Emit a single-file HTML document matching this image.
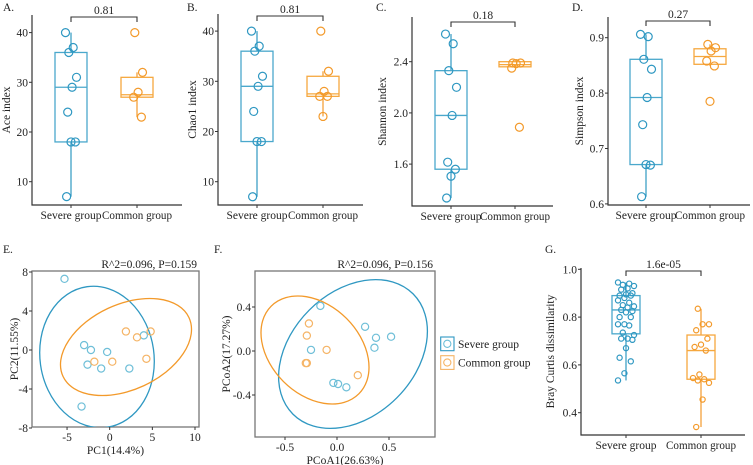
<!DOCTYPE html>
<html><head><meta charset="utf-8">
<style>
html,body{margin:0;padding:0;background:#fff;}
svg{display:block;font-family:"Liberation Serif",serif;}
</style></head>
<body>
<svg id="fig" width="753" height="465" viewBox="0 0 753 465" xmlns="http://www.w3.org/2000/svg"></svg>
<script>
// ---------- DATA ----------
const groups = ["Severe group", "Common group"];
// Panel A (Ace)
const aceSevere = [40, 37, 36, 31, 29, 24, 18, 18, 7];
const aceCommon = [40, 32, 28, 27, 23];
const aceStats = [[7, 18, 29, 36, 40], [23, 27, 27.5, 31, 32]];
const acePval = "0.81";
const aceTicks = [10, 20, 30, 40];
// Panel B (Chao1)
const chaoSevere = [40, 37, 36, 31, 29, 24, 18, 18, 7];
const chaoCommon = [40, 32, 28, 27, 27, 23];
const chaoStats = [[7, 18, 29, 36, 40], [23, 27, 27.5, 31, 32]];
const chaoPval = "0.81";
const chaoTicks = [10, 20, 30, 40];
// Panel C (Shannon)
const shanSevere = [2.616, 2.54, 2.33, 2.2, 1.98, 1.615, 1.56, 1.505, 1.335];
const shanCommon = [2.39, 2.39, 2.385, 2.35, 1.888];
const shanStats = [[1.335, 1.56, 1.98, 2.33, 2.616], [2.35, 2.36, 2.377, 2.40, 2.40]];
const shanPval = "0.18";
const shanTicks = [1.6, 2.0, 2.4];
// Panel D (Simpson)
const simpSevere = [0.906, 0.902, 0.861, 0.843, 0.792, 0.743, 0.67, 0.671, 0.613];
const simpCommon = [0.888, 0.882, 0.876, 0.858, 0.849, 0.785];
const simpStats = [[0.613, 0.671, 0.792, 0.861, 0.906], [0.849, 0.852, 0.866, 0.88, 0.888]];
const simpPval = "0.27";
const simpTicks = [0.6, 0.7, 0.8, 0.9];
// Panel G (Bray Curtis)
const braySevere = [0.945,0.94,0.935,0.93,0.92,0.915,0.9,0.895,0.89,0.89,0.88,0.87,0.86,0.85,0.845,0.84,0.83,0.825,0.82,0.80,0.80,0.77,0.77,0.765,0.735,0.725,0.71,0.71,0.705,0.67,0.63,0.615,0.565,0.535];
const brayCommon = [0.835,0.77,0.77,0.745,0.71,0.685,0.675,0.66,0.56,0.545,0.54,0.535,0.525,0.455,0.34];
const brayStats = [[0.535, 0.73, 0.83, 0.89, 0.945], [0.34, 0.54, 0.66, 0.725, 0.835]];
const brayPval = "1.6e-05";
const brayTicks = [0.4, 0.6, 0.8, 1.0];
// Panel E (PCA)
const pcaSevereX = [-5.3, -3, -2.2, -0.3, 4, -2.6, -1, 2.3, -3.3];
const pcaSevereY = [7.3, 0.5, 0, -0.2, 1.5, -1.5, -1.9, -1.9, -5.8];
const pcaCommonX = [1.9, 3.2, 4.8, -1.8, 0.3, 4.3];
const pcaCommonY = [1.9, 1.3, 1.9, -1.2, -1.2, -0.9];
const pcaXTicks = [-5, 0, 5, 10];
const pcaYTicks = [-8, -4, 0, 4, 8];
// Panel F (PCoA)
const pcoaSevereX = [0.27, 0.375, 0.36, 0.52, -0.16, -0.25, -0.035, 0.01, 0.09];
const pcoaSevereY = [0.22, 0.12, 0.03, 0.13, 0.41, 0.01, -0.29, -0.30, -0.33];
const pcoaCommonX = [-0.27, -0.29, -0.1, -0.29, -0.3, 0.2];
const pcoaCommonY = [0.25, 0.14, 0.01, -0.11, -0.11, -0.22];
const pcoaXTicks = [-0.5, 0.0, 0.5];
const pcoaYTicks = [-0.4, 0.0, 0.4];

// ---------- DRAWING ----------
const NS = "http://www.w3.org/2000/svg";
const svg = document.getElementById("fig");
const BLUE = "#2f98c2", ORANGE = "#f39a2b", BLUEL = "#6fbfd8", ORANGEL = "#f5b466", AX = "#333";
const FS = 11.5, GFS = 12;
const GLEN = [61, 70];
function mk(tag, attrs, parent) {
  const e = document.createElementNS(NS, tag);
  for (const k in attrs) e.setAttribute(k, attrs[k]);
  (parent || svg).appendChild(e);
  return e;
}
function txt(s, x, y, size, anchor, parent, rot) {
  const t = mk("text", {x: x, y: y, "font-size": size, "text-anchor": anchor || "start", fill: "#222"}, parent);
  if (rot) t.setAttribute("transform", "rotate(-90 " + x + " " + y + ")");
  t.textContent = s;
  return t;
}
function fmt(v, d) { return v.toFixed(d); }

function boxPanel(p) {
  const g = mk("g", {});
  
  
  const y = v => p.y0 - (v - p.v0) * p.k;
  const cx = [p.x0, p.x1];
  const ax = mk("path", {d: "M" + p.ax + " " + p.top + "V" + p.bot + "H" + p.right, stroke: AX, fill: "none", "stroke-width": 1.2}, g);
  
  
  p.ticks.forEach(t => {
    mk("line", {x1: p.ax - 3, x2: p.ax, y1: y(t), y2: y(t), stroke: AX}, g);
    const l = txt(fmt(t, p.dec), p.ax - 4, y(t) + 4, FS, "end", g);
    
    
  });
  groups.forEach((gn, i) => {
    mk("line", {x1: cx[i], x2: cx[i], y1: p.bot, y2: p.bot + 3, stroke: AX}, g);
    const l = txt(gn, cx[i], p.bot + 14, GFS, "middle", g);
    l.setAttribute("textLength", GLEN[i]);
    l.setAttribute("lengthAdjust", "spacingAndGlyphs");
    
    
  });
  const yl = txt(p.ylabel, p.ylx, (p.top + p.bot) / 2, FS, "middle", g, true);
  
  
  const pl = txt(p.letter, p.lx, p.ly, FS, "start", g);
  
  
  const cols = [BLUE, ORANGE], bcols = ["#4aa8cc", "#f6a83f"];
  p.stats.forEach((s, i) => {
    const bx = mk("g", {}, g);
    
    
    const hw = p.bw / 2;
    mk("line", {x1: cx[i], x2: cx[i], y1: y(s[0]), y2: y(s[1]), stroke: cols[i], "stroke-width": 1.2}, bx);
    mk("line", {x1: cx[i], x2: cx[i], y1: y(s[3]), y2: y(s[4]), stroke: cols[i], "stroke-width": 1.2}, bx);
    mk("rect", {x: cx[i] - hw, y: y(s[3]), width: p.bw, height: y(s[1]) - y(s[3]), fill: "none", stroke: bcols[i], "stroke-width": 1.3}, bx);
    mk("line", {x1: cx[i] - hw, x2: cx[i] + hw, y1: y(s[2]), y2: y(s[2]), stroke: bcols[i], "stroke-width": 1.3}, bx);
  });
  [p.sev, p.com].forEach((arr, i) => {
    arr.forEach((v, j) => {
      const jit = (((j * 7 + i * 3) % 11) - 5) * p.jit;
      const c = mk("circle", {cx: cx[i] + jit, cy: y(v), r: p.r, fill: "none", stroke: cols[i], "stroke-width": 1.2}, g);
      
      
    });
  });
  const by = p.by;
  const br = mk("path", {d: "M" + cx[0] + " " + (by + 5) + "V" + by + "H" + cx[1] + "V" + (by + 5), fill: "none", stroke: AX, "stroke-width": 1.1}, g);
  
  
  const pv = txt(p.pval, (cx[0] + cx[1]) / 2, by - 3, FS, "middle", g);
  
  
}

boxPanel({name: "panel-a-ace", ax: 32, top: 15, bot: 205, right: 182, x0: 71, x1: 137, bw: 32, y0: 181.7, v0: 10, k: 4.97,
  ticks: aceTicks, dec: 0, ylabel: "Ace index", ylx: 10, letter: "A.", lx: 3, ly: 11, stats: aceStats, sev: aceSevere, com: aceCommon,
  pval: acePval, by: 17, r: 4, jit: 1.1});
boxPanel({name: "panel-b-chao1", ax: 218, top: 14, bot: 205, right: 363, x0: 257, x1: 323, bw: 32, y0: 181.7, v0: 10, k: 5.02,
  ticks: chaoTicks, dec: 0, ylabel: "Chao1 index", ylx: 196, letter: "B.", lx: 187, ly: 11, stats: chaoStats, sev: chaoSevere, com: chaoCommon,
  pval: chaoPval, by: 16, r: 4, jit: 1.1});
boxPanel({name: "panel-c-shannon", ax: 412, top: 17, bot: 206, right: 553, x0: 451, x1: 515, bw: 32, y0: 61.7, v0: 2.4, k: 128,
  ticks: shanTicks, dec: 1, ylabel: "Shannon index", ylx: 386, letter: "C.", lx: 376, ly: 11, stats: shanStats, sev: shanSevere, com: shanCommon,
  pval: shanPval, by: 22, r: 4, jit: 1.1});
boxPanel({name: "panel-d-simpson", ax: 608, top: 17, bot: 205, right: 750, x0: 646, x1: 710, bw: 32, y0: 37.7, v0: 0.9, k: 554,
  ticks: simpTicks, dec: 1, ylabel: "Simpson index", ylx: 583, letter: "D.", lx: 572, ly: 11, stats: simpStats, sev: simpSevere, com: simpCommon,
  pval: simpPval, by: 21, r: 4, jit: 1.1});
boxPanel({name: "panel-g-bray-curtis", ax: 581, top: 268, bot: 435, right: 745, x0: 626, x1: 701, bw: 28, y0: 269.3, v0: 1.0, k: 239,
  ticks: brayTicks, dec: 1, ylabel: "Bray Curtis dissimilarity", ylx: 554, letter: "G.", lx: 545, ly: 253, stats: brayStats, sev: braySevere, com: brayCommon,
  pval: brayPval, by: 271, r: 2.6, jit: 1.6});

let clipId = 0;
function ordPanel(p) {
  const g = mk("g", {});
  
  
  const X = v => p.xz + v * p.kx;
  const Y = v => p.yz - v * p.ky;
  const cid = "clip" + (clipId++);
  const cp = mk("clipPath", {id: cid}, g);
  mk("rect", {x: p.l, y: p.t, width: p.r - p.l, height: p.b - p.t}, cp);
  const fr = mk("rect", {x: p.l, y: p.t, width: p.r - p.l, height: p.b - p.t, fill: "none", stroke: "#777", "stroke-width": 1.3}, g);
  
  
  p.xt.forEach(t => {
    mk("line", {x1: X(t), x2: X(t), y1: p.b, y2: p.b + 3, stroke: AX}, g);
    const l = txt(fmt(t, p.dec), X(t), p.b + 14, FS, "middle", g);
    
    
  });
  p.yt.forEach(t => {
    mk("line", {x1: p.l - 3, x2: p.l, y1: Y(t), y2: Y(t), stroke: AX}, g);
    const l = txt(fmt(t, p.dec), p.l - 4, Y(t) + 4, FS, "end", g);
    
    
  });
  const xl = txt(p.xlabel, (p.l + p.r) / 2, p.b + 27, FS, "middle", g);
  
  
  const yl = txt(p.ylabel, p.ylx, (p.t + p.b) / 2, FS, "middle", g, true);
  
  
  const ti = txt(p.title, p.r - 2, p.t - 3, FS, "end", g);
  
  
  const pl = txt(p.letter, p.lx, 253, FS, "start", g);
  
  
  const cg = mk("g", {"clip-path": "url(#" + cid + ")"}, g);
  p.ell.forEach((e, i) => {
    const el = mk("ellipse", {cx: e[0], cy: e[1], rx: e[2], ry: e[3], transform: "rotate(" + e[4] + " " + e[0] + " " + e[1] + ")", fill: "none", stroke: i ? ORANGE : BLUE, "stroke-width": 1.3}, cg);
    
    
  });
  [[p.sx, p.sy, BLUEL], [p.cx, p.cy, ORANGEL]].forEach(s => {
    s[0].forEach((v, j) => {
      const c = mk("circle", {cx: X(v), cy: Y(s[1][j]), r: 3.6, fill: "none", stroke: s[2], "stroke-width": 1.2}, g);
      
      
    });
  });
}
ordPanel({name: "panel-e-pca", l: 32, t: 271, r: 199, b: 427, xz: 109.7, kx: 8.53, yz: 350, ky: 9.75,
  xt: pcaXTicks, yt: pcaYTicks, dec: 0, xlabel: "PC1(14.4%)", ylabel: "PC2(11.55%)", ylx: 18,
  title: "R^2=0.096, P=0.159", letter: "E.", lx: 3,
  ell: [[97, 357, 57, 71, -8], [126, 347, 69.5, 42.6, -25]],
  sx: pcaSevereX, sy: pcaSevereY, cx: pcaCommonX, cy: pcaCommonY});
ordPanel({name: "panel-f-pcoa", l: 255, t: 271, r: 435, b: 437, xz: 337, kx: 104, yz: 351, ky: 110,
  xt: pcoaXTicks, yt: pcoaYTicks, dec: 1, xlabel: "PCoA1(26.63%)", ylabel: "PCoA2(17.27%)", ylx: 230,
  title: "R^2=0.096, P=0.156", letter: "F.", lx: 214,
  ell: [[353, 354, 85, 62, -45], [315, 350, 62, 44.6, 45]],
  sx: pcoaSevereX, sy: pcoaSevereY, cx: pcoaCommonX, cy: pcoaCommonY});

const lg = mk("g", {});


groups.forEach((gn, i) => {
  const e = mk("g", {}, lg);
  
  
  const y0 = 337 + i * 18.7;
  mk("rect", {x: 440.7, y: y0, width: 13.3, height: 13.7, fill: "#fff", stroke: i ? ORANGEL : BLUE, "stroke-width": 1.1}, e);
  mk("circle", {cx: 447.3, cy: y0 + 6.8, r: 3.6, fill: "none", stroke: i ? ORANGEL : BLUEL, "stroke-width": 1.1}, e);
  txt(gn, 458, y0 + 11, FS, "start", e);
});
</script>
</body></html>
